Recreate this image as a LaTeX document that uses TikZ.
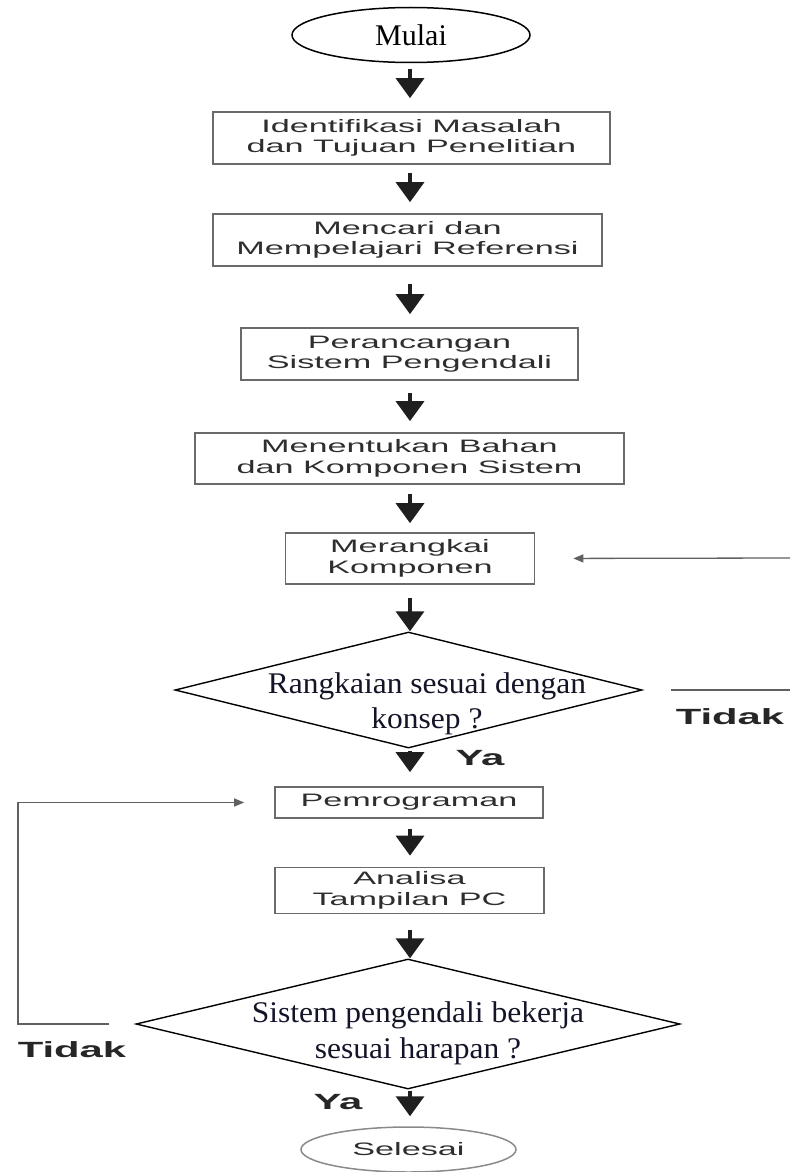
\documentclass[tikz,border=0pt]{standalone}
\usepackage{fontspec}
\setmainfont{Liberation Serif}
\newfontfamily\boxfont[FakeStretch=1.9]{Liberation Sans}
\newfontfamily\decfont[FakeStretch=1.05]{Liberation Serif}
\usetikzlibrary{shapes.geometric,arrows.meta}
\definecolor{boxline}{HTML}{6A6A6A}
\definecolor{boxtext}{HTML}{2E2E2E}
\definecolor{fbline}{HTML}{606060}
\definecolor{endline}{HTML}{8A8A8A}
\definecolor{dectextc}{HTML}{141428}
\begin{document}
\begin{tikzpicture}[x=1pt,y=-1pt,
  box/.style={draw=boxline, line width=1.7pt, rectangle, inner sep=0pt, align=center, text=boxtext, font=\boxfont\fontsize{18}{20.5}\selectfont},
  term/.style={ellipse, draw, line width=1.5pt, inner sep=0pt},
  decision/.style={diamond, draw=black, line width=1.4pt, inner sep=0pt},
  dectext/.style={align=center, text=dectextc, inner sep=0pt},
  flow/.style={draw=black!88, line width=3.6pt, -{Triangle[width=28pt,length=20pt]}},
  back/.style={draw=fbline, line width=1.3pt, -{Triangle[width=8pt,length=10pt]}},
  backline/.style={draw=fbline, line width=1.3pt},
  lbl/.style={font=\boxfont\bfseries\fontsize{22}{24}\selectfont, text=black!85, inner sep=0pt},
]
\useasboundingbox (0,0) rectangle (790,1172);

% nodes
\node[term, minimum width=238, minimum height=55, font=\fontsize{30}{32}\selectfont] (start) at (411,35) {Mulai};
\node[box, minimum width=397, minimum height=52] (b1) at (411.5,138) {Identifikasi Masalah\\dan Tujuan Penelitian};
\node[box, minimum width=389, minimum height=52] (b2) at (407.5,240) {Mencari dan\\Mempelajari Referensi};
\node[box, minimum width=337, minimum height=52] (b3) at (409.5,354) {Perancangan\\Sistem Pengendali};
\node[box, minimum width=429, minimum height=51] (b4) at (409.5,458.5) {Menentukan Bahan\\dan Komponen Sistem};
\node[box, minimum width=249, minimum height=51] (b5) at (410,558.5) {Merangkai\\Komponen};
\node[decision, minimum width=467, minimum height=116] (d1) at (408.5,690) {};
\node[dectext, font=\decfont\fontsize{30}{35}\selectfont] (d1t) at (427,703.5) {Rangkaian sesuai dengan\\konsep ?};
\node[box, minimum width=268, minimum height=31] (b6) at (409,802.5) {Pemrograman};
\node[box, minimum width=269, minimum height=46] (b7) at (409.5,890.5) {Analisa\\Tampilan PC};
\node[decision, minimum width=544, minimum height=130] (d2) at (408,1024) {};
\node[dectext, font=\decfont\fontsize{30}{36}\selectfont] (d2t) at (418,1033) {Sistem pengendali bekerja\\sesuai harapan ?};
\node[term, draw=endline, minimum width=215, minimum height=45, text=boxtext, font=\boxfont\fontsize{18}{20}\selectfont] (end) at (408.5,1149.5) {Selesai};

% labels
\node[lbl] (t1) at (730,717) {Tidak};
\node[lbl] (y1) at (480,758) {Ya};
\node[lbl] (t2) at (72,1050) {Tidak};
\node[lbl] (y2) at (338,1102) {Ya};

% main flow
\coordinate (ax) at (410,0);
\draw[flow, shorten <=5.5pt, shorten >=13pt] (start.south -| ax) -- (b1.north -| ax);
\draw[flow, shorten <=8pt, shorten >=11pt] (b1.south -| ax) -- (b2.north -| ax);
\draw[flow, shorten <=17pt, shorten >=13pt] (b2.south -| ax) -- (b3.north -| ax);
\draw[flow, shorten <=12pt, shorten >=11pt] (b3.south -| ax) -- (b4.north -| ax);
\draw[flow, shorten <=9pt, shorten >=9pt] (b4.south -| ax) -- (b5.north -| ax);
\draw[flow, shorten <=13pt, shorten >=0pt] (b5.south -| ax) -- (d1.north -| ax);
\draw[flow, shorten <=2pt, shorten >=14pt] (d1.south -| ax) -- (b6.north -| ax);
\draw[flow, shorten <=10pt, shorten >=11pt] (b6.south -| ax) -- (b7.north -| ax);
\draw[flow, shorten <=16pt, shorten >=0pt] (b7.south -| ax) -- (d2.north -| ax);
\draw[flow, shorten <=1pt, shorten >=10pt] (d2.south -| ax) -- (end.north -| ax);

% right loop (leaves the picture)
\coordinate (r1) at (790,690);
\coordinate (r2) at (790,558);
\draw[backline, shorten <=28pt] (d1.east) -- (r1);
\draw[back, shorten >=38pt] (r2) -- (b5.east);

% left loop
\coordinate (lx) at (18,0);
\draw[back, shorten <=26pt, shorten >=30pt] (d2.west) -- (lx |- d2.west) |- (b6.west);
\end{tikzpicture}
\end{document}
